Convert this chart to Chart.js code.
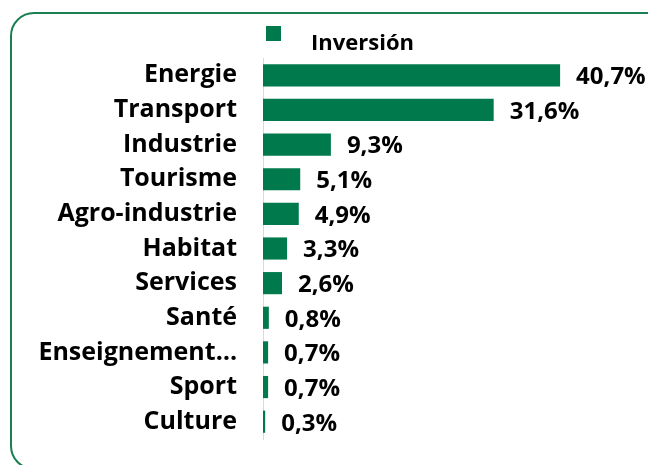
<!DOCTYPE html>
<html>
<head>
<meta charset="utf-8">
<script src="https://cdn.jsdelivr.net/npm/chart.js@4/dist/chart.umd.min.js"></script>
<style>
  body { margin: 0; background: #fff; overflow: hidden; }
  #wrap { position: relative; width: 648px; height: 465px; }
  #cadre {
    position: absolute; left: 10px; top: 12px; width: 680px; height: 458px;
    border: 2px solid #1a7f52; border-radius: 24px; box-sizing: border-box;
    pointer-events: none;
  }
  canvas { position: absolute; left: 0; top: 0; }
</style>
</head>
<body>
<div id="wrap">
  <canvas id="grafico" width="648" height="465"></canvas>
  <div id="cadre"></div>
</div>
<script>
const secteurs = ['Energie','Transport','Industrie','Tourisme','Agro-industrie','Habitat','Services','Santé','Enseignement…','Sport','Culture'];
const inversion = [40.7,31.6,9.3,5.1,4.9,3.3,2.6,0.8,0.7,0.7,0.3];
const nomSerie = 'Inversión';
const vert = '#007A4D';
const police = '"Open Sans", "Noto Sans", sans-serif';

// legende dessinee a la main (carre + texte separes)
const legende = {
  id: 'legende',
  afterDraw(chart){
    const ctx = chart.ctx;
    ctx.save();
    ctx.fillStyle = vert;
    ctx.fillRect(266, 26, 15, 15);
    ctx.fillStyle = '#000';
    ctx.font = 'bold 22px ' + police;
    ctx.textAlign = 'left';
    ctx.textBaseline = 'alphabetic';
    ctx.fillText(nomSerie, 311, 50);
    ctx.restore();
  }
};

// etiquettes de valeur au bout des barres
const etiquettes = {
  id: 'etiquettes',
  afterDatasetsDraw(chart){
    const ctx = chart.ctx;
    const meta = chart.getDatasetMeta(0);
    ctx.save();
    ctx.fillStyle = '#000';
    ctx.font = 'bold 24px ' + police;
    ctx.textAlign = 'left';
    ctx.textBaseline = 'middle';
    meta.data.forEach((bar, i) => {
      const txt = inversion[i].toFixed(1).replace('.', ',') + '%';
      ctx.fillText(txt, bar.x + 16, bar.y + 2);
    });
    ctx.restore();
  }
};

const config = {
  type: 'bar',
  data: {
    labels: secteurs,
    datasets: [{
      label: nomSerie,
      data: inversion,
      backgroundColor: vert,
      borderWidth: 0,
      categoryPercentage: 0.8,
      barPercentage: 0.8
    }]
  },
  options: {
    indexAxis: 'y',
    responsive: false,
    animation: false,
    layout: { padding: { top: 58, bottom: 26, left: 0, right: 20 } },
    plugins: {
      legend: { display: false },
      tooltip: { enabled: false }
    },
    scales: {
      x: {
        display: false,
        min: 0,
        max: 50
      },
      y: {
        afterFit(s){
          s.width = 263;
          s.paddingTop = 0;
          s.paddingBottom = 0;
        },
        grid: { display: false, drawTicks: false },
        border: { display: true, color: '#d9d9d9', width: 1 },
        ticks: {
          color: '#000',
          padding: 26,
          autoSkip: false,
          font: { family: police, size: 25, weight: 'bold' }
        }
      }
    }
  },
  plugins: [legende, etiquettes]
};

new Chart(document.getElementById('grafico'), config);
</script>
</body>
</html>
